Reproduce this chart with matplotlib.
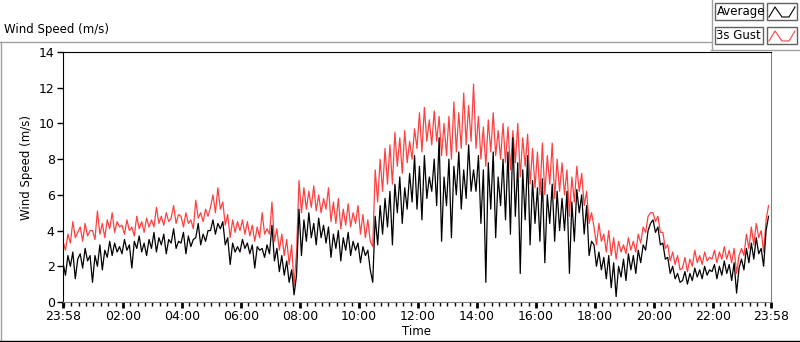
import matplotlib
matplotlib.use('Agg')
import matplotlib.pyplot as plt
import matplotlib.dates as mdates
from matplotlib.lines import Line2D
from matplotlib.patches import Rectangle
import pandas as pd

plt.rcParams['font.family'] = ['DejaVu Sans']

# 5-minute samples, one row per hour (12 values)
avg_rows = [
    [2.2, 1.5, 2.6, 2.0, 2.8, 1.3, 2.4, 2.7, 1.9, 3.0, 2.3, 2.6],
    [1.1, 2.6, 2.0, 3.2, 1.8, 2.9, 2.5, 3.4, 2.6, 3.3, 2.8, 3.1],
    [2.7, 3.5, 2.9, 3.2, 1.9, 3.4, 3.0, 3.7, 2.8, 3.3, 2.6, 3.5],
    [3.0, 3.9, 2.8, 3.6, 3.2, 3.8, 2.7, 3.5, 3.3, 4.1, 3.0, 3.4],
    [3.3, 3.9, 2.7, 3.7, 3.1, 3.5, 3.6, 4.4, 3.2, 3.8, 3.4, 4.0],
    [4.0, 4.6, 3.8, 4.4, 4.1, 4.5, 3.2, 3.6, 2.1, 3.3, 2.8, 3.1],
    [2.8, 3.5, 3.0, 3.3, 2.7, 3.2, 1.9, 3.1, 2.9, 3.0, 2.5, 3.2],
    [2.7, 4.3, 2.3, 3.0, 1.7, 2.6, 1.5, 2.3, 1.1, 1.8, 0.4, 1.5],
    [5.2, 2.6, 4.6, 3.4, 5.0, 3.6, 4.4, 3.2, 4.7, 3.6, 4.3, 3.3],
    [4.2, 2.5, 3.8, 3.0, 4.0, 2.3, 3.6, 2.9, 3.9, 2.6, 3.4, 2.9],
    [3.3, 2.2, 3.1, 2.6, 2.9, 1.8, 1.1, 4.8, 3.2, 5.4, 3.8, 5.8],
    [4.2, 6.2, 3.2, 6.6, 5.0, 7.0, 4.4, 6.4, 5.2, 7.2, 5.6, 8.2],
    [5.2, 7.6, 4.6, 8.2, 5.8, 7.0, 6.2, 8.0, 5.4, 9.2, 3.4, 7.0],
    [5.4, 8.0, 3.6, 7.6, 6.0, 8.4, 5.2, 7.4, 5.8, 8.8, 6.2, 7.4],
    [6.2, 8.2, 4.4, 7.4, 1.1, 7.8, 5.2, 8.4, 3.6, 7.0, 5.4, 8.0],
    [4.6, 8.4, 3.8, 9.2, 4.8, 7.8, 1.6, 7.4, 4.6, 8.2, 3.2, 6.8],
    [4.4, 6.4, 3.4, 6.9, 2.2, 6.0, 4.4, 6.6, 3.4, 6.2, 4.0, 5.8],
    [4.0, 6.2, 1.6, 5.6, 3.4, 6.3, 5.0, 6.0, 3.8, 5.4, 2.6, 3.4],
    [3.2, 2.0, 2.8, 1.8, 2.5, 1.3, 2.6, 0.8, 2.2, 0.3, 2.0, 1.4],
    [2.4, 1.2, 2.7, 1.8, 2.6, 1.6, 2.9, 2.2, 3.2, 2.9, 4.0, 4.4],
    [4.6, 3.9, 4.2, 3.2, 3.3, 2.4, 2.5, 1.6, 2.0, 1.3, 1.6, 1.1],
    [1.2, 1.7, 1.0, 1.6, 1.2, 1.9, 1.4, 1.8, 1.3, 2.0, 1.5, 1.8],
    [1.7, 2.1, 1.3, 2.0, 1.5, 2.3, 1.6, 2.1, 1.2, 2.2, 0.5, 1.9],
    [2.4, 1.8, 3.0, 2.2, 3.3, 2.4, 3.6, 2.7, 3.0, 2.0, 4.0, 4.8],
]

gust_rows = [
    [3.4, 2.9, 3.8, 3.3, 4.5, 3.6, 3.9, 4.2, 3.4, 4.4, 3.7, 4.0],
    [4.0, 3.5, 5.1, 3.8, 4.4, 3.6, 4.6, 4.1, 5.0, 3.9, 4.5, 4.2],
    [4.3, 3.8, 4.6, 4.0, 4.2, 3.7, 4.8, 4.1, 4.5, 3.9, 4.7, 4.2],
    [4.6, 4.2, 5.3, 4.4, 4.8, 4.3, 5.0, 4.5, 4.7, 5.4, 4.4, 4.9],
    [4.8, 4.2, 5.0, 4.4, 4.6, 4.1, 5.7, 4.7, 5.0, 4.5, 5.2, 4.8],
    [5.3, 6.0, 5.0, 6.4, 5.2, 5.6, 4.3, 4.9, 3.6, 4.6, 3.9, 4.5],
    [4.0, 4.6, 3.8, 4.5, 3.7, 4.3, 3.4, 4.2, 3.6, 5.0, 3.8, 4.1],
    [3.8, 5.6, 3.4, 4.1, 2.9, 3.8, 2.6, 3.5, 2.1, 3.2, 0.9, 2.8],
    [6.8, 5.0, 6.4, 5.2, 6.2, 5.3, 6.5, 5.1, 6.0, 5.0, 5.8, 5.2],
    [6.4, 4.5, 5.6, 4.4, 5.8, 4.1, 5.2, 4.3, 5.5, 4.2, 5.0, 4.4],
    [5.4, 3.8, 4.9, 3.6, 4.6, 3.4, 3.1, 7.4, 5.6, 8.0, 6.2, 8.6],
    [6.6, 8.8, 6.6, 9.5, 7.6, 9.2, 7.2, 9.6, 7.8, 9.0, 8.0, 9.7],
    [8.6, 10.6, 8.4, 10.9, 9.0, 10.2, 8.8, 10.7, 9.0, 10.4, 8.2, 10.0],
    [8.2, 10.4, 8.0, 11.2, 8.4, 10.6, 8.6, 11.7, 8.8, 11.0, 9.0, 12.2],
    [8.6, 10.4, 8.0, 9.8, 7.6, 10.2, 8.4, 10.6, 8.2, 9.6, 8.0, 10.0],
    [7.8, 9.8, 7.4, 9.6, 7.8, 10.0, 7.0, 9.2, 7.6, 9.4, 6.6, 8.6],
    [6.4, 8.4, 6.0, 8.9, 6.0, 8.2, 6.6, 8.9, 5.8, 8.0, 6.2, 7.8],
    [6.0, 7.4, 4.8, 7.0, 5.6, 7.6, 6.2, 7.2, 5.4, 6.2, 4.4, 5.0],
    [4.2, 3.2, 4.4, 3.4, 3.8, 2.8, 4.0, 2.6, 3.6, 2.4, 3.4, 2.8],
    [3.2, 2.7, 3.6, 2.9, 3.4, 2.8, 3.8, 3.3, 4.2, 3.9, 4.8, 5.0],
    [5.0, 4.5, 4.8, 3.9, 3.9, 3.0, 3.2, 2.3, 2.8, 2.1, 2.6, 1.8],
    [1.9, 2.5, 1.7, 2.4, 2.0, 2.9, 2.2, 2.6, 2.1, 2.8, 2.3, 2.5],
    [2.4, 2.9, 2.2, 2.8, 2.4, 3.1, 2.4, 2.9, 2.2, 3.0, 1.6, 2.6],
    [3.0, 2.6, 3.8, 3.0, 4.2, 3.2, 4.4, 3.6, 4.0, 2.8, 4.6, 5.4],
]

avg = [v for row in avg_rows for v in row]
gust = [v for row in gust_rows for v in row]

start = pd.Timestamp('2020-01-01 23:58')
end = pd.Timestamp('2020-01-02 23:58')
times = pd.date_range(start, periods=len(avg), freq='5min')
tick_times = [start] + [pd.Timestamp('2020-01-02') + pd.Timedelta(hours=h) for h in range(2, 23, 2)] + [end]

RED = '#ff4040'
fig = plt.figure(figsize=(8, 3.42), dpi=100)
W, H = 800, 342

def fx(px):
    return px / W

def fy(py):
    return 1 - py / H

# outer frame / title strip
fig.add_artist(Line2D([fx(0), fx(711)], [fy(42), fy(42)], color='#a0a0a0', lw=1))
fig.add_artist(Line2D([fx(0.5), fx(0.5)], [fy(42), fy(341)], color='#a0a0a0', lw=1))
fig.add_artist(Line2D([fx(0), fx(800)], [fy(340.5), fy(340.5)], color='black', lw=1))
fig.add_artist(Line2D([fx(711.5), fx(711.5)], [fy(0), fy(50)], color='#a0a0a0', lw=1))
fig.add_artist(Line2D([fx(711), fx(800)], [fy(50), fy(50)], color='#a0a0a0', lw=1))
fig.text(fx(4), fy(30), 'Wind Speed (m/s)', fontsize=8.5, va='center', ha='left')

# legend
for i, (name, col) in enumerate([('Average', 'black'), ('3s Gust', RED)]):
    y0 = 3 + i * 24
    fig.add_artist(Rectangle((fx(715), fy(y0 + 17)), fx(48), 17 / H,
                             facecolor='white', edgecolor='#606060', lw=1))
    fig.text(fx(716.5), fy(y0 + 8.5), name, fontsize=8.5, va='center', ha='left')
    fig.add_artist(Rectangle((fx(767), fy(y0 + 17)), fx(30), 17 / H,
                             facecolor='white', edgecolor='#606060', lw=1))
    zx = [fx(769), fx(775), fx(782), fx(789), fx(795)]
    zy = [fy(y0 + 14), fy(y0 + 4), fy(y0 + 14), fy(y0 + 14), fy(y0 + 4)]
    fig.add_artist(Line2D(zx, zy, color=col, lw=0.8, zorder=5))

ax = fig.add_axes([fx(63), fy(302), fx(771 - 63), (302 - 52) / H])
ax.plot(times, gust, color=RED, lw=0.9)
ax.plot(times, avg, color='black', lw=0.9)
ax.set_xlim(start, end)
ax.set_ylim(0, 14)
ax.set_yticks(range(0, 15, 2))
ax.set_xticks(tick_times)
ax.xaxis.set_major_formatter(mdates.DateFormatter('%H:%M'))
ax.xaxis.set_minor_locator(mdates.MinuteLocator(byminute=[0, 15, 30, 45]))
ax.tick_params(axis='x', which='major', length=4, width=2, labelsize=9, pad=2)
ax.tick_params(axis='x', which='minor', length=3, width=1)
ax.tick_params(axis='y', length=4, width=1, labelsize=9, pad=2)
for s in ['left', 'top']:
    ax.spines[s].set_color('black')
for s in ['right', 'bottom']:
    ax.spines[s].set_color('#808080')
ax.set_ylabel('Wind Speed (m/s)', fontsize=8.5)
ax.yaxis.set_label_coords(-0.042, 0.54)
ax.set_xlabel('Time', fontsize=8.5, labelpad=1)

fig.savefig('out.png', dpi=100)
